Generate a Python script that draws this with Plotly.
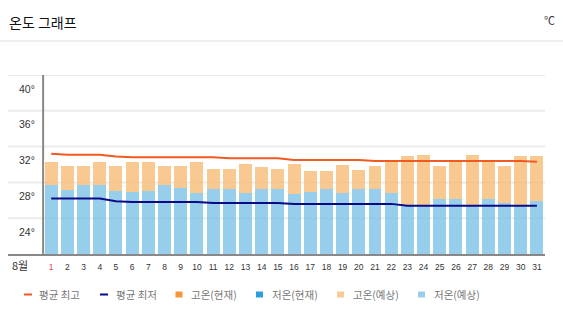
import plotly.graph_objects as go

# ---- data ----
days = list(range(1, 32))
day_labels = [str(d) for d in days]
high_forecast = [30.3, 29.8, 29.8, 30.3, 29.8, 30.3, 30.3, 29.8, 29.8, 30.3,
                 29.5, 29.5, 30.1, 29.7, 29.5, 30.1, 29.3, 29.3, 30.0, 29.4,
                 29.8, 30.4, 30.9, 31.1, 29.8, 30.4, 31.1, 30.4, 29.8, 30.9, 30.9]
low_forecast = [27.7, 27.2, 27.7, 27.7, 27.0, 26.9, 27.0, 27.7, 27.4, 26.8,
                27.3, 27.3, 26.8, 27.3, 27.3, 26.7, 26.9, 27.3, 26.8, 27.3,
                27.3, 26.8, 25.4, 25.4, 26.1, 26.1, 25.4, 26.2, 25.7, 25.4, 25.9]
avg_high = [31.2, 31.1, 31.1, 31.1, 30.9, 30.8, 30.8, 30.8, 30.8, 30.8,
            30.8, 30.7, 30.7, 30.7, 30.7, 30.5, 30.5, 30.5, 30.5, 30.5,
            30.4, 30.4, 30.4, 30.4, 30.4, 30.4, 30.4, 30.4, 30.4, 30.4, 30.3]
avg_low = [26.2, 26.2, 26.2, 26.2, 25.9, 25.8, 25.8, 25.8, 25.8, 25.8,
           25.7, 25.7, 25.7, 25.7, 25.7, 25.6, 25.6, 25.6, 25.6, 25.6,
           25.6, 25.6, 25.4, 25.4, 25.4, 25.4, 25.4, 25.4, 25.4, 25.4, 25.4]
y_ticks = [24, 28, 32, 36, 40]
y_ticktext = [f"{v}°" for v in y_ticks]
month_label = "8월"
title_text = "온도 그래프"
unit_text = "℃"
legend_names = ["평균 최고", "평균 최저", "고온(현재)", "저온(현재)", "고온(예상)", "저온(예상)"]

# ---- style ----
W, H = 563, 323
ML, MR, MT, MB = 8, 18, 75, 69
PW, PH = W - ML - MR, H - MT - MB
KFONT = "Noto Sans CJK KR, Noto Sans, sans-serif"
NFONT = "Liberation Sans, Arial, sans-serif"
C_AVG_HIGH = "#F15A22"
C_AVG_LOW = "#0B0B8A"
C_HIGH_NOW = "#F7963C"
C_LOW_NOW = "#2D9FD9"
C_HIGH_FC = "rgba(246,184,110,0.75)"
C_LOW_FC = "rgba(116,190,228,0.75)"
C_HIGH_FC_SOLID = "#FCCB95"
C_LOW_FC_SOLID = "#97CEEC"
C_GRID = "#ebebeb"


def px(x):
    return (x - ML) / PW


def py(y):
    return (H - MB - y) / PH


tick_text = [f"<span style='color:#d04848'>{t}</span>" if i == 0 else t
             for i, t in enumerate(day_labels)]

fig = go.Figure()
fig.add_trace(go.Bar(x=days, y=low_forecast, marker_color=C_LOW_FC,
                     marker_line_width=0, width=0.8, name=legend_names[5]))
fig.add_trace(go.Bar(x=days, y=[h - l for h, l in zip(high_forecast, low_forecast)],
                     marker_color=C_HIGH_FC, marker_line_width=0, width=0.8,
                     name=legend_names[4]))
fig.add_trace(go.Scatter(x=days, y=avg_high, mode="lines",
                         line=dict(color=C_AVG_HIGH, width=2), name=legend_names[0]))
fig.add_trace(go.Scatter(x=days, y=avg_low, mode="lines",
                         line=dict(color=C_AVG_LOW, width=2), name=legend_names[1]))

shapes = []
annotations = []
# horizontal grid lines (full width, beneath the bars)
for t in y_ticks:
    shapes.append(dict(type="line", xref="paper", yref="y", x0=0, x1=1, y0=t, y1=t,
                       line=dict(color=C_GRID, width=2), layer="below"))
# vertical axis line at the start of the categories
shapes.append(dict(type="line", xref="x", yref="paper", x0=0.5, x1=0.5, y0=0, y1=1,
                   line=dict(color="#888888", width=2), layer="above"))
# header separator
shapes.append(dict(type="line", xref="paper", yref="paper", x0=px(0), x1=px(W),
                   y0=py(41), y1=py(41), line=dict(color="#dddddd", width=1)))
annotations.append(dict(text=title_text, xref="paper", yref="paper", x=px(7), y=py(22),
                        xanchor="left", yanchor="middle", showarrow=False,
                        font=dict(family=KFONT, size=14, color="#111111")))
annotations.append(dict(text=unit_text, xref="paper", yref="paper", x=px(549), y=py(20),
                        xanchor="center", yanchor="middle", showarrow=False,
                        font=dict(family=KFONT, size=11, color="#333333")))
annotations.append(dict(text=month_label, xref="paper", yref="paper", x=px(20), y=py(265),
                        xanchor="center", yanchor="middle", showarrow=False,
                        font=dict(family=KFONT, size=11, color="#333333")))

# custom legend
leg_y = 294.5
leg_items = [
    ("line", C_AVG_HIGH, 24, 37),
    ("line", C_AVG_LOW, 100, 114),
    ("sq", C_HIGH_NOW, 175.5, 189),
    ("sq", C_LOW_NOW, 256, 270),
    ("sq", C_HIGH_FC_SOLID, 337, 350.5),
    ("sq", C_LOW_FC_SOLID, 418, 431.5),
]
for (kind, col, x0, tx), name in zip(leg_items, legend_names):
    if kind == "line":
        shapes.append(dict(type="line", xref="paper", yref="paper", x0=px(x0), x1=px(x0 + 8),
                           y0=py(leg_y), y1=py(leg_y), line=dict(color=col, width=2)))
    else:
        shapes.append(dict(type="rect", xref="paper", yref="paper", x0=px(x0), x1=px(x0 + 7),
                           y0=py(leg_y - 3), y1=py(leg_y + 3), line=dict(width=0),
                           fillcolor=col))
    annotations.append(dict(text=name, xref="paper", yref="paper", x=px(tx), y=py(leg_y),
                            xanchor="left", yanchor="middle", showarrow=False,
                            font=dict(family=KFONT, size=10.5, color="#777777")))

span = PW / 16.19
fig.update_layout(
    width=W, height=H,
    margin=dict(l=ML, r=MR, t=MT, b=MB, pad=0),
    paper_bgcolor="white", plot_bgcolor="white",
    barmode="stack", bargap=0.2,
    showlegend=False,
    shapes=shapes, annotations=annotations,
    xaxis=dict(range=[31.5 - span, 31.5], tickmode="array", tickvals=days,
               ticktext=tick_text, showgrid=False, zeroline=False,
               showline=True, linecolor="#888888", linewidth=2,
               ticks="outside", ticklen=4, tickcolor="rgba(0,0,0,0)",
               tickfont=dict(family=NFONT, size=8.5, color="#333333"),
               fixedrange=True),
    yaxis=dict(range=[20, 40], tickmode="array", tickvals=y_ticks, ticktext=y_ticktext,
               showgrid=False, zeroline=False,
               showline=False, ticklabelposition="inside", ticklabelshift=14,
               ticklabelstandoff=8,
               tickfont=dict(family=NFONT, size=10.5, color="#333333"),
               fixedrange=True),
    font=dict(family=KFONT),
)

fig.write_html("out.html")
